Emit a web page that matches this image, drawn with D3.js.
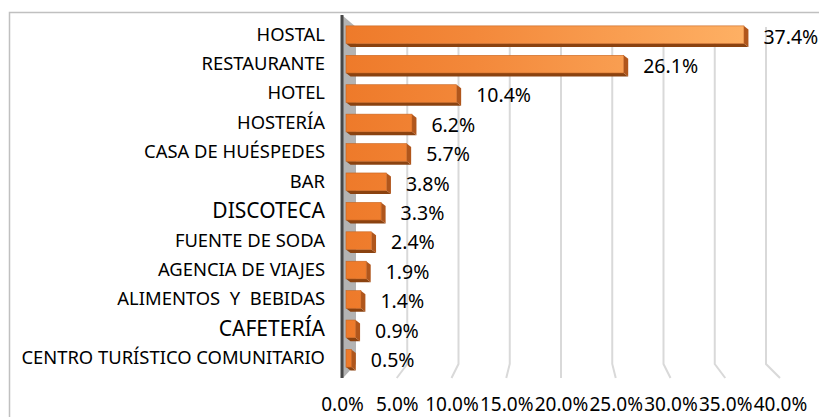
<!DOCTYPE html>
<html lang="es">
<head>
    <meta charset="UTF-8" />
    <title>Establecimientos</title>
    <script src="https://d3js.org/d3.v7.min.js"></script>
    <style>
        body {
            margin: 0;
            background: #fff;
            font-family: "Noto Sans", "DejaVu Sans", sans-serif;
        }
        svg text {
            fill: #000;
        }
        .tick line, .domain {
            display: none;
        }
    </style>
</head>
<body>
    <svg id="chart" width="819" height="417"></svg>

    <script>
        // data
        const categories = ["HOSTAL", "RESTAURANTE", "HOTEL", "HOSTERÍA", "CASA DE HUÉSPEDES", "BAR",
            "DISCOTECA", "FUENTE DE SODA", "AGENCIA DE VIAJES", "ALIMENTOS  Y  BEBIDAS", "CAFETERÍA",
            "CENTRO TURÍSTICO COMUNITARIO"];
        const values = [37.4, 26.1, 10.4, 6.2, 5.7, 3.8, 3.3, 2.4, 1.9, 1.4, 0.9, 0.5];
        const tickValues = [0, 5, 10, 15, 20, 25, 30, 35, 40];

        const svg = d3.select("#chart");
        const font = "'Noto Sans', 'DejaVu Sans', sans-serif";

        // three x scales for the fake perspective: bar fronts, back wall, floor edge
        const xFront = d3.scaleLinear().domain([0, 40]).range([346, 771.6]);
        const xBack = d3.scaleLinear().domain([0, 40]).range([356, 766]);
        const xFloor = d3.scaleLinear().domain([0, 40]).range([342, 780]);

        const y = d3.scaleBand()
            .domain(categories)
            .range([20, 373])
            .paddingInner(0.4)
            .paddingOuter(0.2);

        const wallTop = 27, wallBottom = 364, floorFront = 378;
        const depthX = 4.5, depthY = 3.5;

        // chart border
        svg.append("rect")
            .attr("x", 9.5).attr("y", 12.5)
            .attr("width", 900).attr("height", 500)
            .attr("fill", "none")
            .attr("stroke", "#c0c0c0")
            .attr("stroke-width", 1.5);

        const defs = svg.append("defs");
        const grad = defs.append("linearGradient")
            .attr("id", "barGrad")
            .attr("gradientUnits", "userSpaceOnUse")
            .attr("x1", xFront(0)).attr("x2", xFront(40))
            .attr("y1", 0).attr("y2", 0);
        grad.append("stop").attr("offset", "0%").attr("stop-color", "#ee7a2a");
        grad.append("stop").attr("offset", "30%").attr("stop-color", "#f3883a");
        grad.append("stop").attr("offset", "100%").attr("stop-color", "#ffb468");

        // gridlines: up the back wall, then across the floor
        svg.append("g")
            .selectAll("path")
            .data(tickValues.filter(d => d > 0))
            .join("path")
            .attr("d", d => `M${xBack(d)},${wallTop} L${xBack(d)},${wallBottom} L${xFloor(d)},${floorFront}`)
            .attr("fill", "none")
            .attr("stroke", "#d9d9d9")
            .attr("stroke-width", 2);

        // left side wall
        svg.append("path")
            .attr("d", `M${xFloor(0) + 1},16 L${xBack(0)},${wallTop} L${xBack(0)},${wallBottom} L${xFloor(0) + 1},${floorFront} Z`)
            .attr("fill", "#b3b3b3");
        svg.append("line")
            .attr("x1", xFloor(0)).attr("x2", xFloor(0))
            .attr("y1", 15).attr("y2", floorFront)
            .attr("stroke", "#474747")
            .attr("stroke-width", 3);

        // bars
        const bars = svg.append("g")
            .selectAll("g")
            .data(categories.map((c, i) => ({ cat: c, val: values[i] })))
            .join("g");

        bars.append("path") // bottom face
            .attr("d", d => {
                const x0 = xFront(0), x1 = xFront(d.val), yb = y(d.cat) + y.bandwidth();
                return `M${x0},${yb} L${x1},${yb} L${x1 + depthX},${yb + depthY} L${x0 + depthX},${yb + depthY} Z`;
            })
            .attr("fill", "#8a4210");

        bars.append("path") // right end face
            .attr("d", d => {
                const x1 = xFront(d.val), y0 = y(d.cat), yb = y0 + y.bandwidth();
                return `M${x1},${y0} L${x1 + depthX},${y0 + depthY} L${x1 + depthX},${yb + depthY} L${x1},${yb} Z`;
            })
            .attr("fill", "#b0561c");

        bars.append("rect") // front face
            .attr("x", xFront(0))
            .attr("y", d => y(d.cat))
            .attr("width", d => xFront(d.val) - xFront(0))
            .attr("height", y.bandwidth())
            .attr("fill", "url(#barGrad)")
            .attr("stroke", "#c8641f")
            .attr("stroke-width", 0.6);

        // value labels
        bars.append("text")
            .attr("x", d => xFront(d.val) + depthX + 15)
            .attr("y", d => y(d.cat) + y.bandwidth() / 2 + 2)
            .attr("dy", "0.35em")
            .style("font-family", font)
            .style("font-size", "19.5px")
            .text(d => d.val.toFixed(1) + "%");

        // category axis
        const bigLabels = ["DISCOTECA", "CAFETERÍA"];
        const yAxis = svg.append("g")
            .attr("transform", `translate(${xFloor(0)},0)`)
            .call(d3.axisLeft(y).tickSize(0).tickPadding(17));
        yAxis.selectAll("text")
            .style("font-family", font)
            .style("font-size", d => bigLabels.includes(d) ? "21px" : "18.4px")
            .style("white-space", "pre")
            .attr("fill", "#000");

        // percentage axis along the front floor edge
        const xAxis = svg.append("g")
            .attr("transform", "translate(0,389)")
            .call(d3.axisBottom(xFloor)
                .tickValues(tickValues)
                .tickSize(0)
                .tickPadding(9)
                .tickFormat(d => d3.format(".1f")(d) + "%"));
        xAxis.selectAll("text")
            .style("font-family", font)
            .style("font-size", "19px")
            .attr("fill", "#000");
    </script>
</body>
</html>
